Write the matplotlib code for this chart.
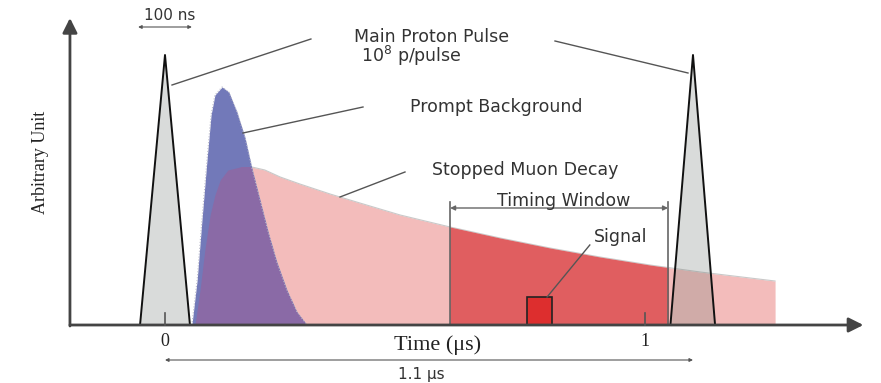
import matplotlib.pyplot as plt
from matplotlib.patches import Polygon, Rectangle

# ---------------------------------------------
# data (time in us, amplitude in arbitrary units)
# ---------------------------------------------
pulse_t = [-0.052, 0.0, 0.052]
pulse2_t = [1.053, 1.1, 1.146]
pulse_y = [0, 270, 0]

prompt_t = [0.056, 0.067, 0.077, 0.0875, 0.096, 0.104, 0.119, 0.133, 0.150,
            0.167, 0.181, 0.198, 0.215, 0.233, 0.254, 0.275, 0.296]
prompt_y = [0, 45, 105, 165, 210, 230, 238, 233, 213,
            187, 157, 125, 93, 63, 35, 13, 0]

muon_t = [0.0625, 0.073, 0.083, 0.094, 0.104, 0.115, 0.131, 0.156, 0.181,
          0.208, 0.240, 0.281, 0.344, 0.406, 0.490, 0.594, 0.698, 0.802,
          0.906, 1.010, 1.115, 1.219, 1.271, 1.2711]
muon_y = [0, 35, 75, 110, 130, 145, 155, 158, 158,
          155, 148, 141, 131, 122, 110, 98, 87, 77,
          68, 60, 53, 47, 44, 0]

window = [0.594, 1.048]
signal_t = 0.78
signal_w = 0.052
signal_h = 28

fig = plt.figure(figsize=(8.81, 3.83), dpi=100)
ax = fig.add_axes([0, 0, 1, 1])
ax.set_xlim(-0.34375, 1.4917)
ax.set_ylim(-58, 325)
ax.axis("off")

pink = "#f3bcbb"
blue = "#7279b9"
purple = "#8a6aa6"
red = "#e05e60"

# stopped muon decay
ax.fill_between(muon_t, muon_y, 0, color=pink, lw=0, zorder=1)
ax.plot(muon_t[:-1], muon_y[:-1], color="#c9c9c9", lw=0.8, zorder=1.5)

# timing window part
red_fill = ax.fill_between(muon_t, muon_y, 0, color=red, lw=0, zorder=2)
red_fill.set_clip_path(Rectangle((window[0], 0), window[1] - window[0], 400,
                                 transform=ax.transData))

# prompt background
ax.fill_between(prompt_t, prompt_y, 0, color=blue, lw=0, zorder=3)
prompt_poly = Polygon(list(zip(prompt_t, prompt_y)), closed=True,
                      transform=ax.transData)
overlap = ax.fill_between(muon_t, muon_y, 0, color=purple, lw=0, zorder=4)
overlap.set_clip_path(prompt_poly)
ax.plot(prompt_t, prompt_y, color="#b9b9c9", lw=0.8, ls=":", zorder=4.5)

# proton pulses
for pt in [pulse_t, pulse2_t]:
    ax.fill(pt, pulse_y, color="#78807a", alpha=0.28, lw=0, zorder=5)
    ax.plot(pt, pulse_y, color="#111111", lw=1.4, zorder=6)

# signal box
ax.add_patch(Rectangle((signal_t - signal_w / 2, 0), signal_w, signal_h,
                       facecolor="#dd2e2e", edgecolor="#222222", lw=1.2, zorder=7))

# timing window markers
for w in window:
    ax.plot([w, w], [0, 123], color="#666666", lw=1.2, zorder=7)
ax.annotate("", xy=(window[0], 117), xytext=(window[1], 117),
            arrowprops=dict(arrowstyle="<|-|>", color="#666666", lw=1,
                            mutation_scale=7, shrinkA=0, shrinkB=0))

# axes with arrows
ax_col = "#444444"
ax.annotate("", xy=(1.455, 0), xytext=(-0.198, 0),
            arrowprops=dict(arrowstyle="-|>", color=ax_col, lw=2,
                            mutation_scale=22, shrinkA=0, shrinkB=0), zorder=8)
ax.annotate("", xy=(-0.198, 307), xytext=(-0.198, -1),
            arrowprops=dict(arrowstyle="-|>", color=ax_col, lw=2,
                            mutation_scale=22, shrinkA=0, shrinkB=0), zorder=8)
for tk in [0, 1]:
    ax.plot([tk, tk], [0, 12], color="#555555", lw=1.2, zorder=8)

txt = dict(family="DejaVu Sans", color="#333333", fontsize=12.5)
serif = dict(family="Liberation Serif", color="#222222")

ax.text(0, -8, "0", ha="center", va="top", fontsize=13, **serif)
ax.text(1, -8, "1", ha="center", va="top", fontsize=13, **serif)
ax.text(0.567, -20, "Time (\u03bcs)", ha="center", va="center", fontsize=16, **serif)
ax.text(-0.26, 163, "Arbitrary Unit", ha="center", va="center", rotation=90,
        fontsize=13, **serif)

# 1.1 us spacing
ax.annotate("", xy=(0, -35), xytext=(1.1, -35),
            arrowprops=dict(arrowstyle="<|-|>", color="#555555", lw=0.8,
                            mutation_scale=5, shrinkA=0, shrinkB=0))
ax.text(0.533, -49, "1.1 \u03bcs", ha="center", va="center",
        family="DejaVu Sans", color="#333333", fontsize=11)

# 100 ns marker
ax.text(0.01, 310, "100 ns", ha="center", va="center",
        family="DejaVu Sans", color="#333333", fontsize=11)
ax.annotate("", xy=(-0.056, 298), xytext=(0.056, 298),
            arrowprops=dict(arrowstyle="<|-|>", color="#555555", lw=0.8,
                            mutation_scale=5, shrinkA=0, shrinkB=0))

# labels with leader lines
lead = dict(color="#555555", lw=1.0, zorder=9)
ax.text(0.556, 288, "Main Proton Pulse", ha="center", va="center", **txt)
ax.text(0.513, 269, "10$^{\\mathregular{8}}$ p/pulse", ha="center", va="center", **txt)
ax.plot([0.0146, 0.304], [240, 286], **lead)
ax.plot([0.8125, 1.0896], [284, 252], **lead)

ax.text(0.690, 218, "Prompt Background", ha="center", va="center", **txt)
ax.plot([0.1625, 0.4125], [192, 218], **lead)

ax.text(0.75, 155, "Stopped Muon Decay", ha="center", va="center", **txt)
ax.plot([0.3646, 0.5], [128, 153], **lead)

ax.text(0.831, 124, "Timing Window", ha="center", va="center", **txt)

ax.text(0.95, 88, "Signal", ha="center", va="center", **txt)
ax.plot([0.796, 0.885], [28, 80], **lead)

fig.savefig("out.png", dpi=100)
